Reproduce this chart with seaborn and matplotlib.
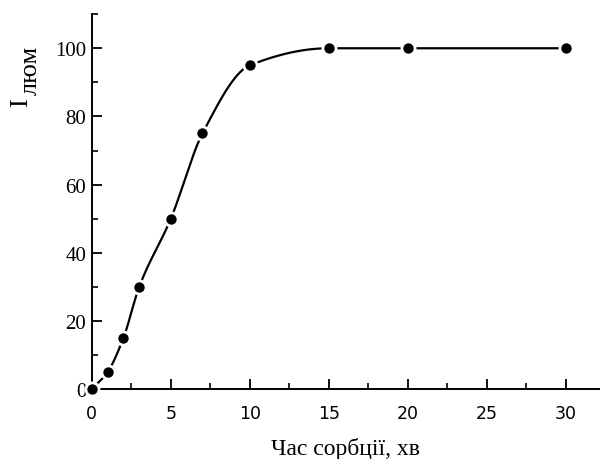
import numpy as np
import pandas as pd
import seaborn as sns
import matplotlib.pyplot as plt
from matplotlib.ticker import MultipleLocator, AutoMinorLocator

# час сорбції, хв та інтенсивність люмінесценції
t = [0, 1, 2, 3, 5, 7, 10, 15, 20, 30]
I = [0, 5, 15, 30, 50, 75, 95, 100, 100, 100]


def pchip(x, y, xn):
    x = np.asarray(x, float)
    y = np.asarray(y, float)
    h = np.diff(x)
    d = np.diff(y) / h
    m = np.zeros_like(y)
    for k in range(1, len(x) - 1):
        if d[k - 1] * d[k] > 0:
            w1 = 2 * h[k] + h[k - 1]
            w2 = h[k] + 2 * h[k - 1]
            m[k] = (w1 + w2) / (w1 / d[k - 1] + w2 / d[k])
    m[0] = d[0]
    m[-1] = 0
    idx = np.clip(np.searchsorted(x, xn) - 1, 0, len(x) - 2)
    hh = h[idx]
    s = (xn - x[idx]) / hh
    h00 = 2 * s**3 - 3 * s**2 + 1
    h10 = s**3 - 2 * s**2 + s
    h01 = -2 * s**3 + 3 * s**2
    h11 = s**3 - s**2
    return h00 * y[idx] + h10 * hh * m[idx] + h01 * y[idx + 1] + h11 * hh * m[idx + 1]


xs = np.linspace(t[0], t[-1], 600)
curve = pd.DataFrame({'t': xs, 'I': pchip(t, I, xs)})
pts = pd.DataFrame({'t': t, 'I': I})

sns.set_style('ticks')
plt.rcParams['font.family'] = ['Liberation Serif', 'DejaVu Serif']
plt.rcParams['text.color'] = 'black'
plt.rcParams['axes.labelcolor'] = 'black'
plt.rcParams['xtick.color'] = 'black'
plt.rcParams['ytick.color'] = 'black'
plt.rcParams['axes.edgecolor'] = 'black'

fig = plt.figure(figsize=(6, 4.6), dpi=100)
ax = fig.add_axes([0.153, 0.152, 0.847, 0.815])

sns.lineplot(data=curve, x='t', y='I', ax=ax, color='black', linewidth=1.6)
sns.scatterplot(data=pts, x='t', y='I', ax=ax, color='black', s=90,
                edgecolor='white', linewidth=2, zorder=5, clip_on=False)

ax.set_xlim(0, 32.15)
ax.set_ylim(0, 110)
ax.xaxis.set_major_locator(MultipleLocator(5))
ax.xaxis.set_minor_locator(AutoMinorLocator(2))
ax.set_yticks([0, 20, 40, 60, 80, 100])
ax.yaxis.set_minor_locator(AutoMinorLocator(2))

for s in ['top', 'right']:
    ax.spines[s].set_visible(False)
for s in ['left', 'bottom']:
    ax.spines[s].set_linewidth(1.4)
ax.tick_params(which='major', direction='in', length=7, width=1.3)
ax.tick_params(which='minor', direction='in', length=4, width=1.2)
ax.tick_params(axis='x', labelsize=12.5, pad=10.5, labelfontfamily='DejaVu Sans')
ax.tick_params(axis='y', labelsize=15, pad=4, labelfontfamily='Liberation Serif')

ax.set_xlabel('Час сорбції, хв', fontsize=17)
ax.xaxis.set_label_coords(0.5, -0.128)
ax.set_ylabel('')

# I з нижнім індексом "люм" того ж розміру
fig.text(0.045, 0.767, 'I', fontsize=19, rotation=90,
         rotation_mode='anchor', ha='left', va='baseline')
fig.text(0.0617, 0.793, 'люм', fontsize=19, rotation=90,
         rotation_mode='anchor', ha='left', va='baseline')

fig.savefig('out.png', dpi=100)
